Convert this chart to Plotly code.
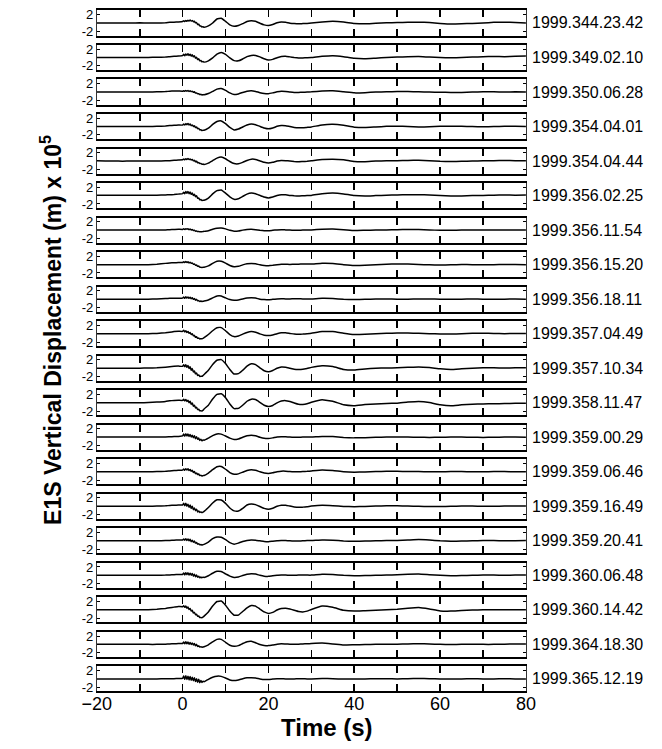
import plotly.graph_objects as go

# Time samples (s)
T = [-20, -18, -16, -14, -12, -10, -8, -6, -4, -3, -2, -1,
     0, 0.25, 0.5, 0.75, 1, 1.25, 1.5, 1.75, 2, 2.25, 2.5, 2.75, 3, 3.25, 3.5, 3.75, 4, 4.25, 4.5, 4.75, 5,
     6, 7, 8, 9, 10, 11, 12, 13, 14, 15, 16, 17, 18, 19, 20, 21, 22, 23, 24, 25, 26, 27, 28, 29, 30,
     32.5, 35, 37.5, 40, 42.5, 45, 47.5, 50, 52.5, 55, 57.5, 60, 62.5, 65, 67.5, 70, 72.5, 75, 77.5, 80]

EVENTS = ["1999.344.23.42", "1999.349.02.10", "1999.350.06.28", "1999.354.04.01",
          "1999.354.04.44", "1999.356.02.25", "1999.356.11.54", "1999.356.15.20",
          "1999.356.18.11", "1999.357.04.49", "1999.357.10.34", "1999.358.11.47",
          "1999.359.00.29", "1999.359.06.46", "1999.359.16.49", "1999.359.20.41",
          "1999.360.06.48", "1999.360.14.42", "1999.364.18.30", "1999.365.12.19"]

XTICKS = [-20, -10, 0, 10, 20, 30, 40, 50, 60, 70, 80]
XLABELS = [-20, 0, 20, 40, 60, 80]
YTICKS = [-2, 2]
YTICKTEXT = ["-2", "2"]

# displacement x 1e5 (m), one list per event
d_344_2342 = [0, 0, 0.02, 0, 0, 0.05, 0, 0, 0.05, 0.15, 0.2, 0.25,
              0.35, 0.55, 0.35, 0.6, 0.4, 0.65, 0.45, 0.7, 0.45, 0.6, 0.3, 0.4, 0.05, 0.1, -0.35, -0.3, -0.7, -0.7, -0.95, -0.9, -1.0,
              -0.7, 0.0, 0.95, 1.15, 0.4, -0.45, -0.8, -0.6, -0.15, 0.35, 0.55, 0.4, -0.05, -0.45, -0.6, -0.35, 0.05, 0.25, 0.15, -0.05, -0.15, -0.2, -0.15, -0.1, 0.0,
              0.25, 0.4, 0.25, -0.1, -0.2, -0.05, 0.05, 0.1, 0.15, 0.2, 0.1, -0.1, -0.25, -0.2, -0.1, 0.0, 0.15, 0.2, 0.1, 0.0]
d_349_0210 = [0, 0, 0, 0, 0, 0, 0.02, 0.05, 0.1, 0.2, 0.3, 0.35,
              0.45, 0.75, 0.45, 0.85, 0.55, 0.9, 0.5, 0.8, 0.35, 0.65, 0.15, 0.4, -0.15, 0.05, -0.5, -0.3, -0.8, -0.7, -1.05, -0.95, -1.1,
              -0.8, -0.1, 0.8, 1.2, 0.75, -0.1, -0.75, -0.8, -0.35, 0.2, 0.5, 0.5, 0.15, -0.3, -0.6, -0.45, -0.05, 0.25, 0.3, 0.15, 0.0, -0.1, -0.1, -0.05, 0.0,
              0.3, 0.45, 0.2, -0.2, -0.3, -0.15, 0.0, 0.1, 0.2, 0.25, 0.1, 0.0, -0.05, 0.0, 0.1, 0.2, 0.25, 0.2, 0.3, 0.35]
d_350_0628 = [0, 0, 0, 0, 0, 0, 0, 0.05, 0.1, 0.2, 0.25, 0.25,
              0.2, 0.3, 0.2, 0.35, 0.2, 0.35, 0.15, 0.3, 0.1, 0.2, -0.05, 0.05, -0.25, -0.2, -0.4, -0.4, -0.6, -0.55, -0.7, -0.62, -0.65,
              -0.35, 0.15, 0.7, 0.85, 0.4, -0.2, -0.6, -0.45, -0.1, 0.2, 0.3, 0.15, -0.15, -0.35, -0.4, -0.2, 0.05, 0.2, 0.15, 0.0, -0.1, -0.1, -0.05, 0.0, 0.05,
              0.25, 0.3, 0.05, -0.2, -0.15, 0.0, 0.05, 0.1, 0.1, 0.05, 0.0, -0.05, -0.1, -0.1, 0.0, 0.05, 0.05, 0.0, 0.05, 0.0]
d_354_0401 = [0, 0, 0, 0, 0, 0, 0, 0.05, 0.15, 0.25, 0.3, 0.35,
              0.35, 0.6, 0.35, 0.7, 0.45, 0.75, 0.35, 0.6, 0.2, 0.4, 0.0, 0.2, -0.25, -0.1, -0.5, -0.45, -0.8, -0.75, -0.95, -0.88, -0.9,
              -0.4, 0.5, 1.2, 1.35, 0.7, -0.2, -0.8, -0.6, -0.1, 0.35, 0.6, 0.45, 0.05, -0.35, -0.55, -0.35, 0.05, 0.25, 0.2, 0.0, -0.2, -0.3, -0.3, -0.2, -0.1,
              0.4, 0.55, 0.3, -0.15, -0.25, -0.1, 0.05, 0.1, 0.0, -0.1, -0.05, 0.05, 0.1, 0.05, 0.0, -0.05, 0.0, 0.05, 0.05, 0.0]
d_354_0444 = [0.05, 0, 0, -0.02, 0, 0, 0, 0, 0.05, 0.1, 0.2, 0.25,
              0.3, 0.5, 0.3, 0.55, 0.35, 0.6, 0.35, 0.5, 0.25, 0.4, 0.05, 0.2, -0.15, -0.05, -0.4, -0.35, -0.6, -0.55, -0.75, -0.72, -0.8,
              -0.5, 0.1, 0.7, 0.95, 0.55, -0.1, -0.6, -0.65, -0.3, 0.15, 0.45, 0.4, 0.05, -0.3, -0.45, -0.3, 0.0, 0.15, 0.1, 0.0, -0.1, -0.15, -0.1, -0.05, 0.05,
              0.35, 0.45, 0.3, -0.1, -0.15, 0.0, 0.05, 0.1, 0.15, 0.2, 0.1, -0.05, -0.1, -0.05, 0.0, 0.05, 0.1, 0.15, 0.1, 0.1]
d_356_0225 = [0.1, 0.1, 0.1, 0.1, 0.1, 0.1, 0.1, 0.1, 0.15, 0.2, 0.25, 0.35,
              0.45, 0.8, 0.45, 0.95, 0.55, 1.0, 0.45, 0.85, 0.3, 0.6, 0.05, 0.35, -0.3, -0.05, -0.65, -0.55, -1.0, -0.95, -1.2, -1.1, -1.1,
              -0.6, 0.4, 1.2, 1.35, 0.6, -0.3, -0.9, -0.75, -0.2, 0.35, 0.6, 0.45, 0.05, -0.35, -0.55, -0.35, 0.0, 0.2, 0.2, 0.05, -0.05, -0.1, -0.05, 0.0, 0.05,
              0.45, 0.6, 0.4, 0.0, -0.1, 0.0, 0.1, 0.15, 0.2, 0.2, 0.15, 0.05, -0.1, -0.1, 0.0, 0.05, 0.1, 0.15, 0.1, 0.15]
d_356_1154 = [0, 0, 0, 0, 0, 0, 0, 0, 0.05, 0.1, 0.15, 0.2,
              0.15, 0.3, 0.15, 0.35, 0.2, 0.35, 0.1, 0.25, 0.05, 0.15, -0.1, 0.0, -0.25, -0.2, -0.35, -0.32, -0.4, -0.38, -0.4, -0.35, -0.3,
              -0.15, 0.2, 0.45, 0.5, 0.3, -0.05, -0.25, -0.2, 0.0, 0.15, 0.2, 0.1, -0.05, -0.15, -0.15, -0.05, 0.05, 0.1, 0.05, 0.0, -0.05, -0.05, 0.0, 0.05, 0.05,
              0.2, 0.25, 0.1, -0.1, -0.05, 0.0, 0.05, 0.1, 0.15, 0.15, 0.05, -0.05, -0.05, 0.0, 0.05, 0.05, 0.05, 0.0, 0.05, 0.05]
d_356_1520 = [0, 0, 0, 0, 0, 0, 0, 0.1, 0.3, 0.4, 0.45, 0.5,
              0.5, 0.7, 0.5, 0.75, 0.5, 0.7, 0.4, 0.55, 0.3, 0.4, 0.1, 0.15, -0.15, -0.1, -0.4, -0.35, -0.6, -0.6, -0.7, -0.62, -0.6,
              -0.3, 0.3, 0.8, 0.8, 0.35, -0.2, -0.5, -0.4, -0.05, 0.2, 0.3, 0.2, -0.05, -0.2, -0.25, -0.15, 0.0, 0.1, 0.1, 0.05, 0.1, 0.1, 0.15, 0.15, 0.15,
              0.35, 0.3, 0.0, -0.2, -0.15, 0.0, 0.1, 0.15, 0.15, 0.05, -0.05, -0.1, -0.05, 0.05, 0.0, -0.05, 0.0, 0.05, 0.05, 0.0]
d_356_1811 = [0, 0, 0, 0, 0, 0, 0, 0.05, 0.15, 0.2, 0.2, 0.2,
              0.25, 0.5, 0.2, 0.55, 0.25, 0.5, 0.2, 0.45, 0.1, 0.35, -0.05, 0.15, -0.25, -0.05, -0.4, -0.35, -0.55, -0.45, -0.55, -0.5, -0.45,
              -0.2, 0.3, 0.75, 0.75, 0.3, -0.1, -0.25, -0.2, 0.05, 0.25, 0.35, 0.25, 0.0, -0.1, -0.15, -0.05, 0.05, 0.1, 0.05, 0.05, 0.1, 0.1, 0.05, 0.05, 0.05,
              0.2, 0.15, -0.05, -0.1, -0.05, 0.05, 0.05, 0.0, 0.0, 0.05, 0.05, 0.0, -0.05, 0.0, 0.05, 0.0, -0.05, 0.0, 0.05, 0.0]
d_357_0449 = [0, 0, 0, 0, 0, 0, 0, 0.05, 0.2, 0.35, 0.5, 0.6,
              0.55, 0.8, 0.4, 0.7, 0.3, 0.55, 0.1, 0.3, -0.2, 0.0, -0.5, -0.4, -0.85, -0.75, -1.1, -1.05, -1.25, -1.2, -1.2, -1.12, -0.95,
              -0.2, 0.7, 1.4, 1.45, 0.7, -0.2, -0.7, -0.55, -0.1, 0.3, 0.5, 0.35, -0.05, -0.35, -0.45, -0.3, 0.0, 0.2, 0.2, 0.05, -0.1, -0.15, -0.1, 0.0, 0.1,
              0.5, 0.5, 0.1, -0.2, -0.15, 0.0, 0.1, 0.15, 0.15, 0.1, 0.0, -0.05, -0.1, 0.0, 0.1, 0.1, 0.05, 0.0, 0.05, 0.05]
d_357_1034 = [0, 0, 0, 0, 0, 0, 0.05, 0.1, 0.25, 0.35, 0.45, 0.5,
              0.45, 0.8, 0.35, 0.85, 0.2, 0.65, -0.1, 0.35, -0.5, -0.1, -0.9, -0.65, -1.35, -1.15, -1.75, -1.6, -2.0, -1.9, -1.95, -1.75, -1.5,
              -0.5, 0.9, 1.9, 2.05, 1.1, -0.3, -1.4, -1.3, -0.5, 0.5, 1.05, 0.85, 0.1, -0.6, -0.85, -0.55, 0.0, 0.3, 0.25, 0.0, -0.25, -0.3, -0.25, -0.05, 0.2,
              0.6, 0.4, -0.3, -0.45, -0.2, 0.0, 0.05, 0.1, 0.2, 0.3, 0.15, -0.15, -0.3, -0.15, 0.0, 0.1, 0.1, 0.05, 0.1, 0.1]
d_358_1147 = [0, 0, 0, 0, 0, 0, 0.05, 0.15, 0.3, 0.45, 0.55, 0.6,
              0.55, 0.85, 0.45, 0.75, 0.3, 0.6, 0.0, 0.35, -0.4, -0.05, -0.85, -0.6, -1.25, -1.1, -1.65, -1.55, -1.95, -1.9, -2.0, -1.8, -1.5,
              -0.6, 0.9, 2.0, 2.15, 1.2, -0.3, -1.4, -1.35, -0.6, 0.35, 0.85, 0.75, 0.1, -0.6, -0.9, -0.65, -0.05, 0.4, 0.5, 0.3, -0.05, -0.35, -0.4, -0.25, 0.1,
              0.7, 0.35, -0.5, -0.7, -0.45, -0.3, -0.2, -0.1, 0.15, 0.3, 0.05, -0.5, -0.75, -0.5, -0.35, -0.3, -0.25, -0.2, -0.15, -0.1]
d_359_0029 = [0.05, 0.05, 0.05, 0.05, 0.05, 0.05, 0.05, 0.05, 0.05, 0.1, 0.15, 0.2,
              0.3, 0.75, 0.25, 0.85, 0.3, 0.8, 0.2, 0.65, 0.05, 0.5, -0.1, 0.35, -0.35, 0.1, -0.5, -0.2, -0.75, -0.5, -0.85, -0.65, -0.7,
              -0.2, 0.4, 0.8, 0.75, 0.3, -0.2, -0.55, -0.4, 0.0, 0.35, 0.5, 0.35, 0.0, -0.25, -0.3, -0.15, 0.05, 0.1, 0.1, 0.05, 0.0, 0.0, 0.05, 0.05, 0.05,
              0.2, 0.15, -0.05, -0.15, -0.1, 0.0, 0.05, 0.05, 0.05, 0.0, -0.05, 0.0, 0.05, 0.05, 0.0, -0.05, 0.0, 0.05, 0.05, 0.0]
d_359_0646 = [0, 0, 0, 0, 0, 0, 0, 0.05, 0.1, 0.2, 0.3, 0.35,
              0.4, 0.65, 0.35, 0.75, 0.4, 0.75, 0.3, 0.55, 0.1, 0.35, -0.15, 0.05, -0.45, -0.3, -0.65, -0.55, -0.9, -0.82, -1.0, -0.92, -0.9,
              -0.3, 0.5, 1.2, 1.25, 0.6, -0.2, -0.6, -0.5, -0.1, 0.3, 0.5, 0.35, 0.0, -0.3, -0.4, -0.25, 0.0, 0.15, 0.15, 0.05, 0.0, 0.0, 0.05, 0.1, 0.2,
              0.45, 0.3, 0.0, -0.1, -0.05, 0.05, 0.1, 0.1, 0.05, 0.05, 0.0, 0.0, 0.05, 0.05, 0.0, 0.0, 0.05, 0.05, 0.0, 0.0]
d_359_1649 = [0, 0, 0, 0, 0, 0, 0, 0.05, 0.1, 0.2, 0.25, 0.3,
              0.3, 0.7, 0.15, 0.75, 0.0, 0.5, -0.25, 0.3, -0.5, 0.0, -0.8, -0.4, -1.05, -0.7, -1.35, -1.1, -1.5, -1.35, -1.5, -1.38, -1.2,
              -0.3, 0.8, 1.55, 1.5, 0.7, -0.4, -1.1, -1.15, -0.5, 0.3, 0.55, 0.4, -0.05, -0.5, -0.7, -0.45, 0.0, 0.25, 0.25, 0.05, -0.15, -0.25, -0.2, -0.1, 0.05,
              0.25, 0.15, -0.05, -0.1, -0.05, 0.05, 0.1, 0.1, 0.05, 0.0, -0.05, -0.05, 0.0, 0.05, 0.05, 0.0, 0.0, 0.05, 0.05, 0.05]
d_359_2041 = [0, 0, 0, 0, 0, 0, 0, 0, 0.05, 0.1, 0.15, 0.2,
              0.2, 0.45, 0.15, 0.5, 0.1, 0.45, 0.0, 0.35, -0.2, 0.15, -0.35, -0.05, -0.55, -0.4, -0.8, -0.7, -0.95, -0.9, -1.0, -0.92, -0.85,
              -0.3, 0.5, 0.9, 0.85, 0.3, -0.45, -0.8, -0.55, -0.15, 0.1, 0.2, 0.15, 0.0, -0.15, -0.2, -0.1, 0.0, 0.1, 0.05, 0.0, -0.05, -0.05, 0.0, 0.05, 0.05,
              0.2, 0.15, -0.05, -0.1, -0.05, 0.0, 0.05, 0.1, 0.2, 0.3, 0.2, 0.0, -0.1, -0.05, 0.0, 0.05, 0.05, 0.0, 0.0, 0.05]
d_360_0648 = [0, 0, 0, 0, 0, 0, 0, 0.02, 0.05, 0.1, 0.15, 0.2,
              0.2, 0.55, 0.1, 0.6, 0.15, 0.6, 0.05, 0.5, 0.0, 0.45, -0.2, 0.25, -0.35, 0.05, -0.45, -0.2, -0.6, -0.4, -0.6, -0.45, -0.5,
              -0.1, 0.5, 0.95, 0.9, 0.35, -0.2, -0.5, -0.4, -0.05, 0.25, 0.4, 0.3, 0.0, -0.2, -0.25, -0.1, 0.0, 0.1, 0.05, 0.0, 0.0, 0.05, 0.05, 0.05, 0.05,
              0.25, 0.2, 0.0, -0.1, -0.05, 0.0, 0.05, 0.15, 0.25, 0.3, 0.15, 0.0, -0.1, -0.05, 0.0, 0.05, 0.05, 0.0, 0.05, 0.05]
d_360_1442 = [0, 0, 0, 0, 0, 0, 0.05, 0.15, 0.35, 0.5, 0.65, 0.8,
              0.75, 1.0, 0.6, 0.9, 0.4, 0.7, 0.1, 0.35, -0.3, -0.1, -0.75, -0.6, -1.15, -1.05, -1.55, -1.45, -1.85, -1.8, -1.9, -1.72, -1.5,
              -0.5, 0.9, 2.0, 2.1, 1.1, -0.3, -1.3, -1.25, -0.4, 0.5, 1.05, 0.9, 0.2, -0.5, -0.85, -0.6, -0.05, 0.3, 0.4, 0.2, -0.1, -0.4, -0.5, -0.3, 0.1,
              0.9, 0.6, -0.1, -0.3, -0.2, -0.1, 0.0, 0.15, 0.4, 0.55, 0.2, -0.25, -0.3, -0.15, -0.05, 0.0, 0.05, 0.05, 0.05, 0.05]
d_364_1830 = [0, 0, 0, 0, 0, 0, 0, 0, 0.05, 0.1, 0.15, 0.2,
              0.2, 0.55, 0.15, 0.6, 0.15, 0.55, 0.05, 0.45, -0.05, 0.35, -0.15, 0.2, -0.35, 0.0, -0.5, -0.35, -0.65, -0.55, -0.7, -0.62, -0.55,
              -0.1, 0.6, 1.2, 1.2, 0.5, -0.2, -0.45, -0.3, 0.2, 0.65, 0.75, 0.4, -0.05, -0.25, -0.3, -0.15, 0.05, 0.15, 0.1, 0.05, 0.0, 0.05, 0.1, 0.15, 0.2,
              0.3, 0.1, -0.15, -0.1, -0.05, 0.0, 0.05, 0.05, 0.1, 0.15, 0.1, 0.0, -0.05, 0.0, 0.05, 0.0, 0.0, 0.05, 0.1, 0.1]
d_365_1219 = [0, 0, 0, 0, 0, 0, 0, 0, 0.02, 0.05, 0.05, 0.1,
              0.15, 0.7, -0.1, 0.75, -0.15, 0.65, -0.25, 0.55, -0.35, 0.4, -0.45, 0.25, -0.65, 0.05, -0.8, -0.1, -0.9, -0.4, -0.85, -0.55, -0.7,
              -0.1, 0.4, 0.65, 0.6, 0.2, -0.25, -0.4, -0.25, 0.05, 0.25, 0.3, 0.2, 0.0, -0.15, -0.15, -0.05, 0.05, 0.05, 0.0, 0.0, 0.0, 0.05, 0.05, 0.0, 0.0,
              0.1, 0.05, -0.05, -0.05, 0.0, 0.05, 0.05, 0.0, 0.05, 0.1, 0.05, 0.0, -0.05, 0.0, 0.05, 0.0, 0.0, 0.05, 0.0, 0.0]

SERIES = [d_344_2342, d_349_0210, d_350_0628, d_354_0401, d_354_0444, d_356_0225,
          d_356_1154, d_356_1520, d_356_1811, d_357_0449, d_357_1034, d_358_1147,
          d_359_0029, d_359_0646, d_359_1649, d_359_2041, d_360_0648, d_360_1442,
          d_364_1830, d_365_1219]

W, H = 662, 749
LEFT, RIGHT = 85, 531
TOP0, STEP, PH = 7.5, 34.8, 25.3
FONT = "Arial, Liberation Sans, sans-serif"

fig = go.Figure()
layout = dict(width=W, height=H, margin=dict(l=0, r=0, t=0, b=0),
              plot_bgcolor="white", paper_bgcolor="white", showlegend=False,
              font=dict(family=FONT, color="black"))
annotations = []
n = len(SERIES)
for i, (name, ys) in enumerate(zip(EVENTS, SERIES)):
    k = "" if i == 0 else str(i + 1)
    top = TOP0 + STEP * i
    bot = top + PH
    fig.add_trace(go.Scatter(x=T, y=ys, mode="lines", xaxis="x" + k, yaxis="y" + k,
                             line=dict(color="black", width=1.5, shape="spline", smoothing=0.3),
                             hoverinfo="skip"))
    layout["xaxis" + k] = dict(domain=[LEFT / W, RIGHT / W], anchor="y" + k, range=[-20, 80],
                               tickvals=XTICKS, ticks="inside", ticklen=7,
                               tickwidth=1.6, tickcolor="black", showline=True, linewidth=2,
                               linecolor="black", mirror="allticks", showgrid=False, zeroline=False,
                               showticklabels=False)
    layout["yaxis" + k] = dict(domain=[1 - bot / H, 1 - top / H], anchor="x" + k, range=[-3, 3],
                               tickvals=YTICKS, ticktext=YTICKTEXT, ticks="inside", ticklen=3,
                               tickwidth=1, tickcolor="black", showline=True, linewidth=1,
                               linecolor="#333", mirror="ticks", showgrid=False, zeroline=False,
                               tickfont=dict(size=13, family=FONT, color="black"))
    annotations.append(dict(text=name, xref="paper", yref="paper", x=(RIGHT + 4) / W,
                            y=1 - (top + PH / 2) / H, xanchor="left", yanchor="middle",
                            showarrow=False, font=dict(size=16, family=FONT, color="black")))

# label axis for time values under the last panel
lastk = str(n)
layout["xaxis%d" % (n + 1)] = dict(domain=[LEFT / W, RIGHT / W], anchor="y" + lastk,
                                   overlaying="x" + lastk, side="bottom", range=[-20, 80],
                                   tickvals=XLABELS, ticks="", showline=False, showgrid=False,
                                   zeroline=False, ticklabelstandoff=0,
                                   tickfont=dict(size=18, family=FONT, color="black"))
fig.add_trace(go.Scatter(x=[XLABELS[0]], y=[0], mode="markers", marker=dict(opacity=0),
                         xaxis="x%d" % (n + 1), yaxis="y" + lastk, hoverinfo="skip"))

annotations.append(dict(text="<b>Time (s)</b>", xref="paper", yref="paper", x=324 / W,
                        y=1 - 730 / H, xanchor="center", yanchor="middle", showarrow=False,
                        font=dict(size=24, family=FONT, color="black")))
annotations.append(dict(text="<b>E1S Vertical Displacement (m) x 10<sup>5</sup></b>",
                        xref="paper", yref="paper", x=38 / W, y=1 - 330 / H, textangle=-90,
                        xanchor="center", yanchor="middle", showarrow=False,
                        font=dict(size=23, family=FONT, color="black")))
layout["annotations"] = annotations
fig.update_layout(**layout)
fig.write_html("out.html", config={"displayModeBar": False, "staticPlot": True},
               post_script="document.body.style.margin='0';document.body.style.padding='0';")
